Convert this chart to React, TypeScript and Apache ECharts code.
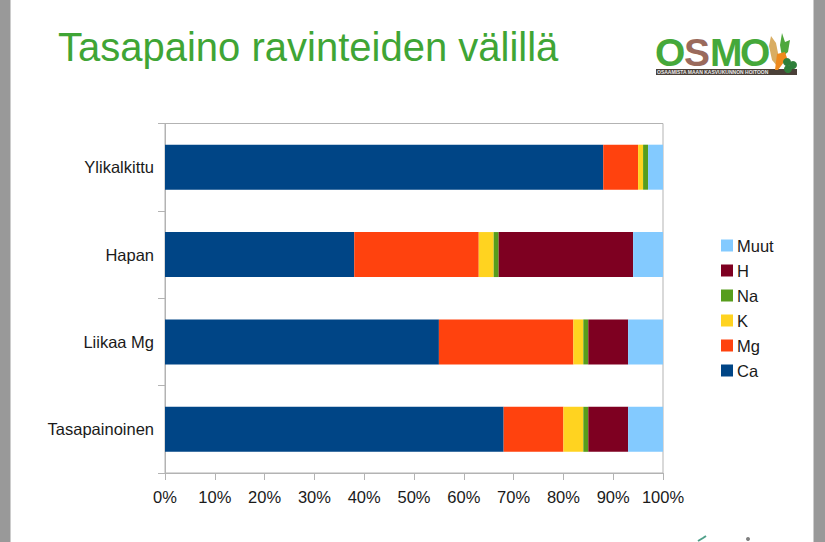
import React, { useEffect, useRef } from "react";
import * as echarts from "echarts";

const categories = ["Tasapainoinen", "Liikaa Mg", "Hapan", "Ylikalkittu"];
const ca = [68, 55, 38, 88];
const mg = [12, 27, 25, 7];
const k = [4, 2, 3, 1];
const na = [1, 1, 1, 1];
const h = [8, 8, 27, 0];
const muut = [7, 7, 6, 3];
const seriesNames = ["Ca", "Mg", "K", "Na", "H", "Muut"];
const seriesValues = [ca, mg, k, na, h, muut];
const seriesColors = ["#004586", "#ff420e", "#ffd320", "#579d1c", "#7e0021", "#83caff"];
const titleText = "Tasapaino ravinteiden välillä";
const logoTagline = "OSAAMISTA MAAN KASVUKUNNON HOITOON";
const FONT = "'Liberation Sans', Arial, sans-serif";

export default function App() {
  const ref = useRef<HTMLDivElement>(null);
  useEffect(() => {
    document.body.style.margin = "0";
    const chart = echarts.init(ref.current!, undefined, { renderer: "svg" });
    chart.setOption({
      animation: false,
      backgroundColor: "#ffffff",
      grid: { left: 165, right: 162, top: 123.5, bottom: 69, show: true, borderColor: "#b3b3b3", borderWidth: 1, backgroundColor: "transparent" },
      xAxis: {
        type: "value", min: 0, max: 100, interval: 10,
        axisLine: { show: true, lineStyle: { color: "#b3b3b3" } },
        axisTick: { show: true, length: 7, lineStyle: { color: "#b3b3b3" } },
        splitLine: { show: false },
        axisLabel: { color: "#1a1a1a", fontFamily: FONT, fontSize: 16.5, margin: 15, formatter: "{value}%", hideOverlap: false },
      },
      yAxis: {
        type: "category", data: categories,
        axisLine: { show: true, lineStyle: { color: "#b3b3b3" } },
        axisTick: { show: true, length: 7, lineStyle: { color: "#b3b3b3" } },
        axisLabel: { color: "#1a1a1a", fontFamily: FONT, fontSize: 16.5, margin: 11 },
      },
      legend: {
        orient: "vertical", left: 716, top: 232, itemWidth: 12, itemHeight: 12, itemGap: 8,
        icon: "rect", data: [...seriesNames].reverse(),
        textStyle: { color: "#1a1a1a", fontFamily: FONT, fontSize: 16.5, padding: [0, 0, 0, -1], height: 16, lineHeight: 16 },
      },
      series: seriesNames.map((name, i) => ({
        name, type: "bar", stack: "total", barWidth: 45,
        data: seriesValues[i], itemStyle: { color: seriesColors[i] },
      })),
      graphic: [
        { type: "rect", shape: { x: 0, y: 0, width: 10.5, height: 542 }, style: { fill: "#999999" } },
        { type: "rect", shape: { x: 813.5, y: 0, width: 11.5, height: 542 }, style: { fill: "#999999" } },
        { type: "text", x: 58, y: 27, style: { text: titleText, fill: "#3fa535", font: `40px ${FONT}` } },
        { type: "rect", shape: { x: 656, y: 69, width: 141, height: 6 }, style: { fill: "#4a4038" } },
        { type: "text", x: 657, y: 69, style: { text: logoTagline, fill: "#e8e8e8", font: `bold 5px ${FONT}` } },
        { type: "text", x: 655, y: 33, style: { text: "O", fill: "#45a83a", font: `bold 39px ${FONT}` } },
        { type: "text", x: 684, y: 33, style: { text: "S", fill: "#9a6a5c", font: `bold 39px ${FONT}` } },
        { type: "text", x: 710, y: 33, style: { text: "M", fill: "#45a83a", font: `bold 39px ${FONT}` } },
        { type: "text", x: 740, y: 33, style: { text: "O", fill: "#45a83a", font: `bold 39px ${FONT}` } },
        { type: "polygon", shape: { points: [[771, 36], [776, 43], [779, 58], [777, 66], [772, 60], [769, 46]] }, style: { fill: "#d9ad62" } },
        { type: "polygon", shape: { points: [[782, 33], [785, 42], [790, 40], [788, 52], [782, 57], [780, 45]] }, style: { fill: "#4fa83d" } },
        { type: "polygon", shape: { points: [[777, 54], [785, 52], [787, 58], [778, 70], [775, 70]] }, style: { fill: "#ee8a1d" } },
        { type: "circle", shape: { cx: 787, cy: 62, r: 4 }, style: { fill: "#2f7f3a" } },
        { type: "circle", shape: { cx: 793, cy: 65, r: 4 }, style: { fill: "#2f7f3a" } },
        { type: "circle", shape: { cx: 788, cy: 69, r: 4 }, style: { fill: "#2f7f3a" } },
        { type: "polyline", shape: { points: [[698, 541], [703, 538], [706, 536]] }, style: { stroke: "#4fa08a", lineWidth: 2, fill: "none" } },
        { type: "circle", shape: { cx: 748, cy: 539, r: 2 }, style: { fill: "#808080" } },
      ],
    });
    return () => chart.dispose();
  }, []);
  return <div ref={ref} style={{ width: 825, height: 542 }} />;
}
